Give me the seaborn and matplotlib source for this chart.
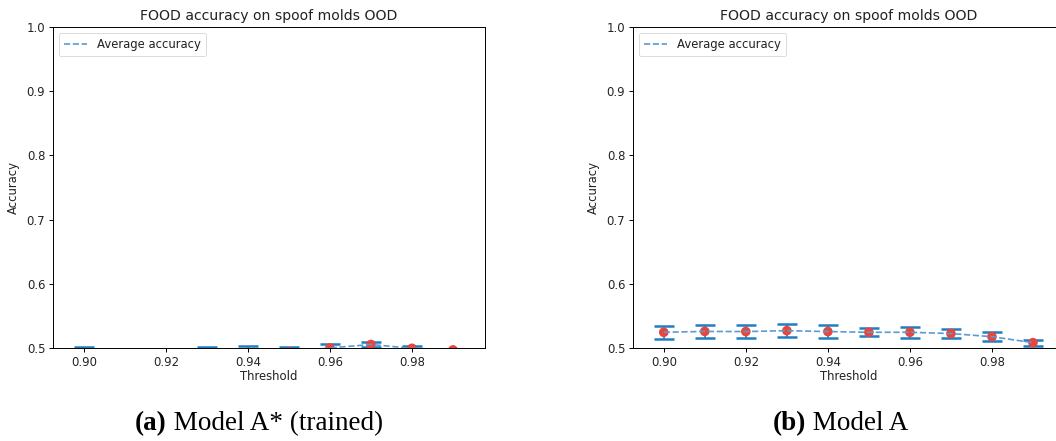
import numpy as np
import pandas as pd
import matplotlib
matplotlib.use("Agg")
import matplotlib.pyplot as plt
import seaborn as sns

thresholds = [0.90, 0.91, 0.92, 0.93, 0.94, 0.95, 0.96, 0.97, 0.98, 0.99]

trained_mean = [0.490, 0.486, 0.487, 0.491, 0.493, 0.494, 0.500, 0.5055, 0.4995, 0.497]
trained_std = [0.011, 0.010, 0.010, 0.010, 0.0095, 0.008, 0.0055, 0.0045, 0.004, 0.001]

base_mean = [0.5245, 0.5258, 0.5256, 0.5270, 0.5256, 0.5245, 0.5245, 0.5225, 0.5176, 0.5083]
base_std = [0.0104, 0.0102, 0.0100, 0.0097, 0.0099, 0.0065, 0.0082, 0.0073, 0.0070, 0.0047]

titles = ["FOOD accuracy on spoof molds OOD", "FOOD accuracy on spoof molds OOD"]
captions = [("(a)", " Model A* (trained)"), ("(b)", " Model A")]
xticks = [0.90, 0.92, 0.94, 0.96, 0.98]
yticks = [0.5, 0.6, 0.7, 0.8, 0.9, 1.0]

W, H = 1056, 441
fig = plt.figure(figsize=(W / 100, H / 100), dpi=100)

err_color = "#1f7fc0"
dot_color = "#e8453c"
line_color = "#5b9bd0"
txt_color = "#222222"

positions = [
    [53 / W, (H - 348) / H, 432 / W, 321 / H],
    [633 / W, (H - 348) / H, 432 / W, 321 / H],
]

datasets = [(trained_mean, trained_std), (base_mean, base_std)]
FS = 8.4

for i, (mean, std) in enumerate(datasets):
    ax = fig.add_axes(positions[i])
    df = pd.DataFrame({"Threshold": thresholds, "Accuracy": mean, "std": std})
    ax.errorbar(df["Threshold"], df["Accuracy"], yerr=df["std"], fmt="none",
                ecolor=err_color, elinewidth=1.2, capsize=7.5, capthick=1.8,
                zorder=2)
    sns.scatterplot(data=df, x="Threshold", y="Accuracy", ax=ax, color=dot_color,
                    s=48, edgecolor="none", zorder=3, legend=False)
    sns.lineplot(data=df, x="Threshold", y="Accuracy", ax=ax, color=line_color,
                 linestyle="--", linewidth=1.2, label="Average accuracy", zorder=4)
    ax.set_xlim(0.8925, 0.9978)
    ax.set_ylim(0.5, 1.0)
    ax.set_xticks(xticks)
    ax.set_xticklabels([f"{t:.2f}" for t in xticks])
    ax.set_yticks(yticks)
    ax.set_yticklabels([f"{t:.1f}" for t in yticks])
    ax.tick_params(labelsize=FS, length=3, width=0.7, pad=2.5,
                   labelcolor=txt_color)
    for s in ax.spines.values():
        s.set_linewidth(0.7)
    ax.set_title(titles[i], fontsize=10.1, pad=5, color=txt_color)
    ax.set_xlabel("Threshold", fontsize=FS, labelpad=1, color=txt_color)
    ax.set_ylabel("Accuracy", fontsize=FS, labelpad=5, color=txt_color)
    leg = ax.legend(loc="upper left", fontsize=FS, frameon=True,
                    handlelength=2.0, borderpad=0.45, framealpha=0.8)
    for t in leg.get_texts():
        t.set_color(txt_color)
    leg.get_frame().set_linewidth(0.6)

cap_centers = [259 / W, 841 / W]
for (bold, rest), cx in zip(captions, cap_centers):
    t1 = fig.text(0, 0, bold, fontsize=19.5, fontweight="bold",
                  family="Liberation Serif", va="center")
    t2 = fig.text(0, 0, rest, fontsize=19.5, family="Liberation Serif", va="center")
    fig.canvas.draw()
    r = fig.canvas.get_renderer()
    w1 = t1.get_window_extent(r).width
    w2 = t2.get_window_extent(r).width
    x0 = cx * W - (w1 + w2) / 2
    yc = 1 - 424 / H
    t1.set_position((x0 / W, yc))
    t2.set_position(((x0 + w1) / W, yc))

fig.savefig("out.png", dpi=100)
